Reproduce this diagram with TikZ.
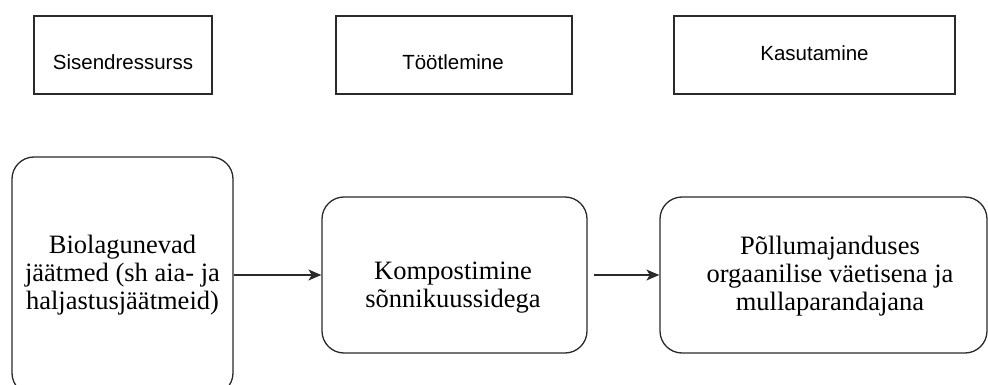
\documentclass[tikz,border=0pt]{standalone}
\usepackage{fontspec}
\setmainfont{Liberation Serif}
\newfontfamily\labelsans{Liberation Sans}
\usetikzlibrary{arrows.meta}
\definecolor{edge}{HTML}{2A2A2A}
\tikzset{
  headbox/.style={draw=edge, line width=1.3pt, rectangle, minimum height=78pt, inner sep=0pt},
  stagebox/.style={draw=edge, line width=1.3pt, rectangle, rounded corners=22pt, inner sep=0pt},
  headlabel/.style={font=\labelsans\fontsize{20.5}{24}\selectfont, anchor=base, inner sep=0pt, text=black},
  stagelabel/.style={font=\fontsize{26.5}{28}\selectfont, align=center, inner sep=0pt, text=black},
  flow/.style={draw=edge, line width=1.3pt, -{Stealth[length=13pt,width=11pt,inset=3.5pt]}}
}
\begin{document}
\begin{tikzpicture}[x=1pt,y=-1pt]
  \path[use as bounding box, clip] (0,0) rectangle (988,385);

  % column headings
  \node[headbox, minimum width=178pt] (hin)  at (123,55)   {};
  \node[headbox, minimum width=236pt] (hpro) at (454,55)   {};
  \node[headbox, minimum width=281pt] (huse) at (814.5,55) {};
  \node[headlabel] (tin)  at (123,70)   {Sisendressurss};
  \node[headlabel] (tpro) at (453,70)   {Töötlemine};
  \node[headlabel] (tuse) at (814.5,61) {Kasutamine};

  % process stages
  \node[stagebox, minimum width=221pt, minimum height=238pt] (src)  at (122.5,276) {};
  \node[stagebox, minimum width=265pt, minimum height=156pt] (proc) at (454.5,275) {};
  \node[stagebox, minimum width=327pt, minimum height=156pt] (use)  at (823.5,275) {};

  \node[stagelabel] (lsrc)  at (122.5,275) {Biolagunevad\\jäätmed (sh aia- ja\\haljastusjäätmeid)};
  \node[stagelabel] (lproc) at (453,288)   {Kompostimine\\sõnnikuussidega};
  \node[stagelabel] (luse)  at (830,276)   {Põllumajanduses\\orgaanilise väetisena ja\\mullaparandajana};

  % flow between stages
  \draw[flow] (src.east |- proc.west) -- (proc.west);
  \draw[flow, shorten <=6pt] (proc.east) -- (use.west);
\end{tikzpicture}
\end{document}
